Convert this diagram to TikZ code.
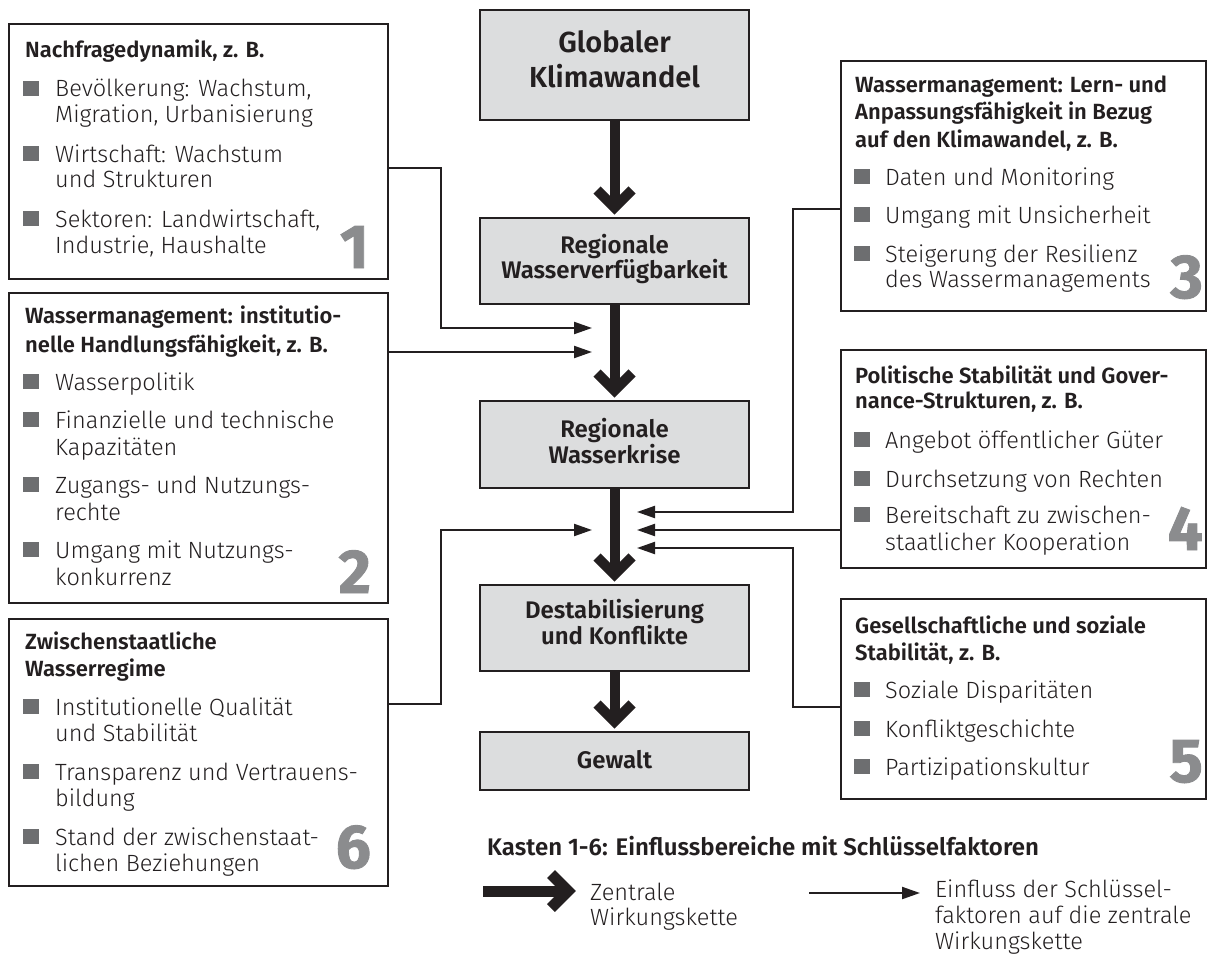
\documentclass[tikz,border=0pt]{standalone}
\usepackage{fontspec}
\setmainfont{Fira Sans}[UprightFont={* Light}, BoldFont={* SemiBold}]
\newfontfamily\numfont{Fira Sans}[BoldFeatures={FakeBold=1.5}]
\usetikzlibrary{arrows.meta,calc}
\definecolor{ink}{HTML}{231F20}
\definecolor{boxfill}{HTML}{DCDDDE}
\definecolor{bul}{HTML}{6D6E70}
\definecolor{numc}{HTML}{8B8C8E}
\tikzset{
  sidebox/.style={draw=ink, line width=2.5pt, inner sep=0pt, outer sep=0pt, rectangle},
  chainbox/.style={sidebox, fill=boxfill},
  body/.style={anchor=base west, inner sep=0pt, text=ink, font=\fontsize{23.5}{26}\selectfont},
  head/.style={anchor=base west, inner sep=0pt, text=ink, font=\bfseries\fontsize{22}{24}\selectfont},
  ctext/.style={anchor=base, inner sep=0pt, text=ink, font=\bfseries\fontsize{24}{26}\selectfont},
  btext/.style={anchor=base, inner sep=0pt, text=ink, font=\bfseries\fontsize{29}{32}\selectfont},
  bignum/.style={anchor=base east, inner sep=0pt, text=numc, font=\numfont\bfseries\fontsize{62}{62}\selectfont},
  bulletsq/.style={fill=bul, draw=none, inner sep=0pt, outer sep=0pt, minimum width=16pt, minimum height=15pt, anchor=south west},
  infl/.style={draw=ink, line width=2.2pt, -{Triangle[length=18pt,width=12pt]}},
  stem/.style={draw=ink, line width=10pt},
  chevline/.style={draw=ink, line width=10pt, line join=miter},
  chev/.pic={\draw[chevline] (-17.5pt,17.5pt) -- (0,0) -- (17.5pt,17.5pt);}
}
% name, bullet x, text x, baseline y, text
\newcommand\bitem[5]{%
  \node[bulletsq] (#1q) at (#2,#4-1) {};
  \node[body] (#1) at (#3,#4) {#5};}
\begin{document}
\begin{tikzpicture}[x=1pt,y=-1pt]
\useasboundingbox (0,0) rectangle (1215,955);

% ---------- central chain ----------
\node[chainbox, minimum width=269pt, minimum height=110pt] (gk) at (614.5,65) {};
\node[btext] (gk1) at (614.5,53) {Globaler};
\node[btext] (gk2) at (614.5,88) {Klimawandel};

\node[chainbox, minimum width=269pt, minimum height=86pt] (rw) at (614.5,261) {};
\node[ctext] (rw1) at (614.5,253) {Regionale};
\node[ctext] (rw2) at (614.5,278) {Wasserverfügbarkeit};

\node[chainbox, minimum width=269pt, minimum height=87pt] (rk) at (614.5,444.5) {};
\node[ctext] (rk1) at (614.5,437) {Regionale};
\node[ctext] (rk2) at (614.5,463) {Wasserkrise};

\node[chainbox, minimum width=269pt, minimum height=86pt] (dk) at (614.5,628) {};
\node[ctext] (dk1) at (614.5,618) {Destabilisierung};
\node[ctext] (dk2) at (614.5,644) {und Konflikte};

\node[chainbox, minimum width=269pt, minimum height=58pt] (gw) at (614.5,761) {};
\node[ctext] (gw1) at (614.5,768) {Gewalt};

\foreach \a/\b in {gk/rw, rw/rk, rk/dk, dk/gw}{
  \draw[stem] (\a.south) -- ([yshift=10.5pt]\b.north);
  \pic at ([yshift=10.5pt]\b.north) {chev};
}

% ---------- box 1 ----------
\node[sidebox, minimum width=379pt, minimum height=255pt] (b1) at (198.5,151.5) {};
\node[head] (h1) at (25,58) {Nachfragedynamik, z. B.};
\bitem{i1a}{23}{55}{97}{Bevölkerung: Wachstum,}
\node[body] (i1a2) at (55,123) {Migration, Urbanisierung};
\bitem{i1b}{23}{55}{162}{Wirtschaft: Wachstum}
\node[body] (i1b2) at (55,187) {und Strukturen};
\bitem{i1c}{23}{55}{227}{Sektoren: Landwirtschaft,}
\node[body] (i1c2) at (55,253) {Industrie, Haushalte};
\node[bignum] (n1) at (369,268) {1};

% ---------- box 2 ----------
\node[sidebox, minimum width=379pt, minimum height=310pt] (b2) at (198.5,448) {};
\node[head] (h2a) at (25,323) {Wassermanagement: institutio-};
\node[head] (h2b) at (25,352) {nelle Handlungsfähigkeit, z. B.};
\bitem{i2a}{23}{55}{390}{Wasserpolitik}
\bitem{i2b}{23}{55}{428}{Finanzielle und technische}
\node[body] (i2b2) at (55,455) {Kapazitäten};
\bitem{i2c}{23}{55}{493}{Zugangs- und Nutzungs-}
\node[body] (i2c2) at (55,520) {rechte};
\bitem{i2d}{23}{55}{558}{Umgang mit Nutzungs-}
\node[body] (i2d2) at (55,585) {konkurrenz};
\node[bignum] (n2) at (371,593) {2};

% ---------- box 6 ----------
\node[sidebox, minimum width=379pt, minimum height=267pt] (b6) at (198.5,752.5) {};
\node[head] (h6a) at (25,649) {Zwischenstaatliche};
\node[head] (h6b) at (25,676) {Wasserregime};
\bitem{i6a}{23}{55}{715}{Institutionelle Qualität}
\node[body] (i6a2) at (55,741) {und Stabilität};
\bitem{i6b}{23}{55}{780}{Transparenz und Vertrauens-}
\node[body] (i6b2) at (55,806) {bildung};
\bitem{i6c}{23}{55}{845}{Stand der zwischenstaat-}
\node[body] (i6c2) at (55,871) {lichen Beziehungen};
\node[bignum] (n6) at (371,868) {6};

% ---------- box 3 ----------
\node[sidebox, minimum width=365pt, minimum height=250pt] (b3) at (1023.5,186) {};
\node[head] (h3a) at (855,93) {Wassermanagement: Lern- und};
\node[head] (h3b) at (855,120) {Anpassungsfähigkeit in Bezug};
\node[head] (h3c) at (855,147) {auf den Klimawandel, z. B.};
\bitem{i3a}{854}{885}{185}{Daten und Monitoring}
\bitem{i3b}{854}{885}{223}{Umgang mit Unsicherheit}
\bitem{i3c}{854}{885}{262}{Steigerung der Resilienz}
\node[body] (i3c2) at (885,287) {des Wassermanagements};
\node[bignum] (n3) at (1203,298) {3};

% ---------- box 4 ----------
\node[sidebox, minimum width=365pt, minimum height=218pt] (b4) at (1023.5,459) {};
\node[head] (h4a) at (855,383) {Politische Stabilität und Gover-};
\node[head] (h4b) at (855,408) {nance-Strukturen, z. B.};
\bitem{i4a}{854}{885}{448}{Angebot öffentlicher Güter}
\bitem{i4b}{854}{885}{487}{Durchsetzung von Rechten}
\bitem{i4c}{854}{885}{523}{Bereitschaft zu zwischen-}
\node[body] (i4c2) at (885,550) {staatlicher Kooperation};
\node[bignum] (n4) at (1203,550) {4};

% ---------- box 5 ----------
\node[sidebox, minimum width=365pt, minimum height=200pt] (b5) at (1023.5,699) {};
\node[head] (h5a) at (855,633) {Gesellschaftliche und soziale};
\node[head] (h5b) at (855,660) {Stabilität, z. B.};
\bitem{i5a}{854}{885}{698}{Soziale Disparitäten}
\bitem{i5b}{854}{885}{737}{Konfliktgeschichte}
\bitem{i5c}{854}{885}{775}{Partizipationskultur}
\node[bignum] (n5) at (1203,782) {5};

% ---------- influence connectors ----------
\coordinate (k1) at (441,168); \coordinate (e1) at (592,328);
\draw[infl] (b1.east |- k1) -- (k1) -- (k1 |- e1) -- (e1);
\coordinate (e2) at (592,352);
\draw[infl] (b2.east |- e2) -- (e2);
\coordinate (k6) at (441,704); \coordinate (e6) at (592,530);
\draw[infl] (b6.east |- k6) -- (k6) -- (k6 |- e6) -- (e6);
\coordinate (k3) at (793,209); \coordinate (e3) at (637,512);
\draw[infl] (b3.west |- k3) -- (k3) -- (k3 |- e3) -- (e3);
\coordinate (e4) at (637,530);
\draw[infl] (b4.west |- e4) -- (e4);
\coordinate (k5) at (793,707); \coordinate (e5) at (637,548);
\draw[infl] (b5.west |- k5) -- (k5) -- (k5 |- e5) -- (e5);

% ---------- legend ----------
\node[head, font=\bfseries\fontsize{24}{26}\selectfont] (lt) at (487,855) {Kasten 1-6: Einflussbereiche mit Schlüsselfaktoren};
\coordinate (la0) at (483,891); \coordinate (la1) at (568,891);
\draw[stem, line width=11pt] (la0) -- (la1);
\draw[chevline, line width=11pt] ([shift={(-17pt,17pt)}]la1) -- (la1) -- ([shift={(-17pt,-17pt)}]la1);
\node[body] (lz1) at (590,900) {Zentrale};
\node[body] (lz2) at (590,925) {Wirkungskette};
\coordinate (lb0) at (809,893); \coordinate (lb1) at (920,893);
\draw[infl] (lb0) -- (lb1);
\node[body] (le1) at (935,897) {Einfluss der Schlüssel-};
\node[body] (le2) at (935,923) {faktoren auf die zentrale};
\node[body] (le3) at (935,949) {Wirkungskette};
\end{tikzpicture}
\end{document}
